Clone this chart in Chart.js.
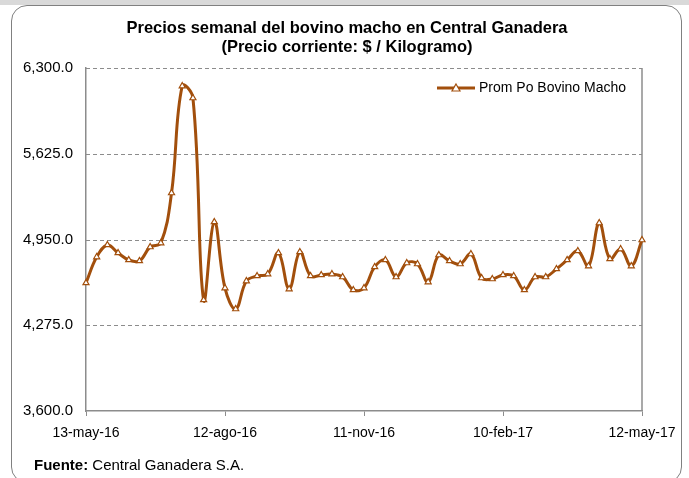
<!DOCTYPE html>
<html lang="es">
<head>
<meta charset="UTF-8">
<script src="https://cdn.jsdelivr.net/npm/chart.js@4.4.1/dist/chart.umd.min.js"></script>
<title>Bovino macho</title>
<style>
    body { margin: 0; background: #fff; font-family: "Liberation Sans", Arial, sans-serif; }
    #band { position: absolute; left: 0; top: 0; width: 689px; height: 5px; background: #d9d9d9; }
    #box { position: absolute; left: 11px; top: 5px; width: 671px; height: 478px; border: 1px solid #808080; border-radius: 16px; box-sizing: border-box; }
    #wrap { position: absolute; left: 0; top: 0; width: 689px; height: 478px; }
</style>
</head>
<body>
<div id="band"></div>
<div id="box"></div>
<div id="wrap"><canvas id="cv" width="689" height="478"></canvas></div>
<script>
// semanas (viernes) desde 13-may-16 hasta 12-may-17
var fechas = [
    '13-may-16','20-may-16','27-may-16','03-jun-16','10-jun-16','17-jun-16','24-jun-16','01-jul-16','08-jul-16','15-jul-16',
    '22-jul-16','29-jul-16','05-ago-16','12-ago-16','19-ago-16','26-ago-16','02-sep-16','09-sep-16','16-sep-16','23-sep-16',
    '30-sep-16','07-oct-16','14-oct-16','21-oct-16','28-oct-16','04-nov-16','11-nov-16','18-nov-16','25-nov-16','02-dic-16',
    '09-dic-16','16-dic-16','23-dic-16','30-dic-16','06-ene-17','13-ene-17','20-ene-17','27-ene-17','03-feb-17','10-feb-17',
    '17-feb-17','24-feb-17','03-mar-17','10-mar-17','17-mar-17','24-mar-17','31-mar-17','07-abr-17','14-abr-17','21-abr-17',
    '28-abr-17','05-may-17','12-may-17'
];
// precio promedio $/kg
var precio = [
    4608, 4812, 4907, 4844, 4789, 4781, 4891, 4922, 5316, 6158,
    6064, 4474, 5088, 4568, 4403, 4623, 4663, 4678, 4844, 4560,
    4852, 4663, 4671, 4678, 4655, 4553, 4568, 4734, 4789, 4655,
    4765, 4757, 4615, 4828, 4781, 4757, 4836, 4647, 4639, 4671,
    4663, 4553, 4655, 4655, 4718, 4789, 4860, 4741, 5080, 4797,
    4875, 4741, 4946
];
var yTicks = [3600, 4275, 4950, 5625, 6300];
var serie = 'Prom Po Bovino Macho';
var titulo = ['Precios semanal del bovino macho en Central Ganadera', '(Precio corriente: $ / Kilogramo)'];

var COLOR = '#a24f0c';
var FONT = '"Liberation Sans", Arial, sans-serif';

var textos = {
    id: 'textos',
    afterDraw: function(chart) {
        var ctx = chart.ctx;
        ctx.save();
        ctx.fillStyle = '#000';
        ctx.textAlign = 'center';
        ctx.textBaseline = 'middle';
        ctx.font = 'bold 16.5px ' + FONT;
        ctx.fillText(titulo[0], 347, 28);
        ctx.fillText(titulo[1], 347, 47);

        // leyenda
        var ly = 88;
        ctx.strokeStyle = COLOR;
        ctx.lineWidth = 3;
        ctx.beginPath();
        ctx.moveTo(437, ly);
        ctx.lineTo(475, ly);
        ctx.stroke();
        ctx.fillStyle = '#fff';
        ctx.lineWidth = 1.2;
        ctx.beginPath();
        ctx.moveTo(456, ly - 4);
        ctx.lineTo(460, ly + 3);
        ctx.lineTo(452, ly + 3);
        ctx.closePath();
        ctx.fill();
        ctx.stroke();
        ctx.fillStyle = '#000';
        ctx.textAlign = 'left';
        ctx.font = '14px ' + FONT;
        ctx.fillText(serie, 479, ly);

        // fuente
        ctx.font = 'bold 15px ' + FONT;
        ctx.fillText('Fuente:', 34, 466);
        var w = ctx.measureText('Fuente: ').width;
        ctx.font = '15px ' + FONT;
        ctx.fillText('Central Ganadera S.A.', 34 + w, 466);
        ctx.restore();
    }
};

new Chart(document.getElementById('cv'), {
    type: 'line',
    data: {
        labels: fechas,
        datasets: [{
            label: serie,
            data: precio,
            borderColor: COLOR,
            borderWidth: 3,
            tension: 0.4,
            pointStyle: 'triangle',
            pointRadius: 3.5,
            pointBorderWidth: 1.2,
            pointBackgroundColor: '#fff',
            pointBorderColor: COLOR
        }]
    },
    options: {
        responsive: false,
        animation: false,
        layout: { padding: { left: 0, top: 68, right: 47, bottom: 0 } },
        plugins: { legend: { display: false }, tooltip: { enabled: false } },
        scales: {
            x: {
                offset: false,
                afterFit: function(s) { s.height = 67; },
                border: { color: '#8c8c8c', width: 1.5 },
                grid: {
                    drawOnChartArea: false,
                    tickLength: 5,
                    color: function(c) { return c.index % 13 === 0 ? '#8c8c8c' : 'transparent'; }
                },
                ticks: {
                    autoSkip: false,
                    maxRotation: 0,
                    padding: 9,
                    color: '#000',
                    font: { family: FONT, size: 14 },
                    callback: function(v, i) {
                        if (i % 13 !== 0) return '';
                        var p = fechas[i].split('-');
                        return parseInt(p[0], 10) + '-' + p[1] + '-' + p[2];
                    }
                }
            },
            y: {
                min: 3600,
                max: 6300,
                afterFit: function(s) { s.width = 86; },
                afterBuildTicks: function(s) { s.ticks = yTicks.map(function(v) { return { value: v }; }); },
                border: { color: '#8c8c8c', width: 1.5 },
                grid: { display: false, drawTicks: false },
                ticks: {
                    padding: 13,
                    color: '#000',
                    font: { family: FONT, size: 15 },
                    callback: function(v) {
                        return v.toLocaleString('en-US', { minimumFractionDigits: 1, maximumFractionDigits: 1 });
                    }
                }
            }
        }
    },
    plugins: [textos, {
        id: 'marco',
        beforeDatasetsDraw: function(chart) {
            var a = chart.chartArea, ctx = chart.ctx;
            ctx.save();
            ctx.strokeStyle = '#8c8c8c';
            ctx.lineWidth = 1;
            ctx.setLineDash([4, 3]);
            yTicks.forEach(function(v) {
                if (v === 3600) return;
                var y = Math.round(chart.scales.y.getPixelForValue(v)) + 0.5;
                ctx.beginPath();
                ctx.moveTo(a.left, y);
                ctx.lineTo(a.right, y);
                ctx.stroke();
            });
            ctx.setLineDash([]);
            ctx.lineWidth = 1.5;
            ctx.beginPath();
            ctx.moveTo(a.right, a.top);
            ctx.lineTo(a.right, a.bottom);
            ctx.stroke();
            ctx.restore();
        }
    }]
});
</script>
</body>
</html>
